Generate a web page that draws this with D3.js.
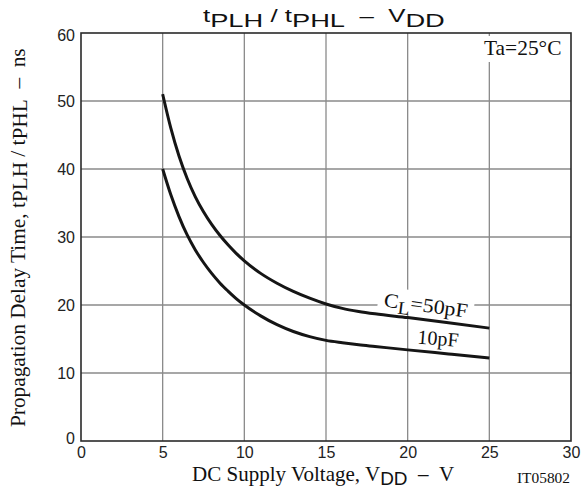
<!DOCTYPE html>
<html>
<head>
<meta charset="utf-8">
<script src="https://cdn.jsdelivr.net/npm/d3@7/dist/d3.min.js"></script>
<style>
  html, body { margin: 0; padding: 0; background: #fff; }
  svg { display: block; }
</style>
</head>
<body>
<svg id="chart" width="583" height="493"></svg>
<script>
// ---- data ----
const xTicks = [0, 5, 10, 15, 20, 25, 30];
const yTicks = [0, 10, 20, 30, 40, 50, 60];

const vdd50 = [5, 5.5, 6, 6.5, 7, 7.5, 8, 8.5, 9, 9.5, 10, 11, 12, 13, 14, 15, 16, 17, 18, 20, 22.5, 25];
const tpd50 = [51, 46.0, 41.9, 38.6, 35.9, 33.7, 31.85, 30.25, 28.85, 27.6, 26.5, 24.65, 23.2, 22.0, 21.0, 20.15, 19.5, 19.05, 18.7, 18.15, 17.4, 16.6];

const vdd10 = [5, 5.5, 6, 6.5, 7, 7.5, 8, 8.5, 9, 9.5, 10, 11, 12, 13, 14, 15, 16, 17, 18, 20, 22.5, 25];
const tpd10 = [40, 36.2, 33.0, 30.3, 28.1, 26.25, 24.65, 23.25, 22.05, 20.95, 20.0, 18.4, 17.1, 16.1, 15.35, 14.8, 14.45, 14.15, 13.9, 13.4, 12.8, 12.2];

// ---- layout ----
const svg = d3.select("#chart");
const L = 81, R = 571, T = 33, B = 441;
const x = d3.scaleLinear().domain([0, 30]).range([L, R]);
const y = d3.scaleLinear().domain([0, 60]).range([B, T]);

const SERIF = "'Liberation Serif', 'Times New Roman', serif";
const SANS = "'Liberation Sans', Arial, Helvetica, sans-serif";
const GRID = "#8a8a8a";
const INK = "#111";

// stretch a horizontal text horizontally so that it spans [x0, x1]
function fitX(sel, x0, x1) {
  const bb = sel.node().getBBox();
  const s = (x1 - x0) / bb.width;
  sel.attr("transform", `translate(${x0},0) scale(${s},1) translate(${-bb.x},0)`);
}

// grid
const grid = svg.append("g");
grid.selectAll("line.v").data(xTicks.slice(1, -1)).join("line")
  .attr("x1", d => x(d)).attr("x2", d => x(d))
  .attr("y1", T).attr("y2", B)
  .attr("stroke", GRID).attr("stroke-width", 1.3);
grid.selectAll("line.h").data(yTicks.slice(1, -1)).join("line")
  .attr("x1", L).attr("x2", R)
  .attr("y1", d => y(d)).attr("y2", d => y(d))
  .attr("stroke", GRID).attr("stroke-width", 1.3);

// axes (tick labels only)
const xAxis = d3.axisBottom(x).tickValues(xTicks).tickSize(0).tickPadding(6);
const gx = svg.append("g").attr("transform", `translate(0,${B})`).call(xAxis);
gx.select(".domain").remove();
gx.selectAll("text").attr("font-family", SANS).attr("font-size", 16).attr("fill", "#222");

const yAxis = d3.axisLeft(y).tickValues(yTicks).tickSize(0).tickPadding(6);
const gy = svg.append("g").attr("transform", `translate(${L},0)`).call(yAxis);
gy.select(".domain").remove();
gy.selectAll("text").attr("font-family", SANS).attr("font-size", 16).attr("fill", "#222")
  .attr("dy", d => d === 0 ? "0.14em" : (d === 60 ? "0.48em" : "0.33em"));

// Ta box
svg.append("rect").attr("x", 478).attr("y", 36).attr("width", R - 479).attr("height", 26).attr("fill", "#fff");
const ta = svg.append("text").attr("y", 55)
  .attr("font-family", SERIF).attr("font-size", 20).attr("fill", INK).text("Ta=25°C");
fitX(ta, 484, 561.5);

// CL label background
const lab50 = svg.append("g")
  .attr("transform", `translate(${x(21.06)},${y(18.97)}) rotate(7.5)`);
lab50.append("rect").attr("x", -48).attr("y", -20).attr("width", 96).attr("height", 24).attr("fill", "#fff");

// curves
const line = d3.line().x(d => x(d[0])).y(d => y(d[1])).curve(d3.curveMonotoneX);
svg.append("path").datum(d3.zip(vdd50, tpd50)).attr("d", line)
  .attr("fill", "none").attr("stroke", "#151515").attr("stroke-width", 3);
svg.append("path").datum(d3.zip(vdd10, tpd10)).attr("d", line)
  .attr("fill", "none").attr("stroke", "#151515").attr("stroke-width", 3);

// curve labels
const t50 = lab50.append("text").attr("text-anchor", "middle")
  .attr("font-family", SERIF).attr("font-size", 20).attr("fill", INK);
t50.append("tspan").text("C");
t50.append("tspan").attr("font-size", 18).attr("dy", 5).text("L");
t50.append("tspan").attr("dy", -5).text("=50pF");
t50.attr("transform", "scale(1.1,1)");

svg.append("g").attr("transform", `translate(${x(21.83)},${y(14.1)}) rotate(4.7)`)
  .append("text").attr("text-anchor", "middle")
  .attr("font-family", SERIF).attr("font-size", 20).attr("fill", INK).text("10pF");

// border
svg.append("rect").attr("x", L).attr("y", T).attr("width", R - L).attr("height", B - T)
  .attr("fill", "none").attr("stroke", "#2a2a2a").attr("stroke-width", 1.6);

// title
const title = svg.append("text").attr("y", 22)
  .attr("font-family", SANS).attr("fill", INK);
title.append("tspan").attr("font-size", 18).text("t");
title.append("tspan").attr("font-size", 19).attr("dy", 5).text("PLH");
title.append("tspan").attr("font-size", 18).attr("dy", -5).text("\u00A0/\u00A0t");
title.append("tspan").attr("font-size", 19).attr("dy", 5).text("PHL");
title.append("tspan").attr("font-size", 18).attr("dy", -5).text("\u00A0\u00A0–\u00A0\u00A0V");
title.append("tspan").attr("font-size", 19).attr("dy", 5).text("DD");
fitX(title, 203, 445);

// x label
const xl = svg.append("text").attr("y", 481)
  .attr("font-family", SERIF).attr("font-size", 20).attr("fill", INK);
xl.append("tspan").text("DC Supply Voltage, V");
xl.append("tspan").attr("font-family", SANS).attr("font-size", 18).attr("dy", 4).text("DD");
xl.append("tspan").attr("dy", -4).text("\u00A0\u00A0–\u00A0\u00A0V");
fitX(xl, 192, 455);

// IT code
const it = svg.append("text").attr("y", 483)
  .attr("font-family", SERIF).attr("font-size", 14).attr("fill", INK).text("IT05802");
fitX(it, 517, 570);

// y label (rotated)
const yl = svg.append("text").attr("x", 0).attr("y", 0)
  .attr("font-family", SERIF).attr("font-size", 20).attr("fill", INK);
yl.append("tspan").text("Propagation Delay Time, t");
yl.append("tspan").attr("dy", 2).text("PLH");
yl.append("tspan").attr("dy", -2).text("\u00A0/\u00A0t");
yl.append("tspan").attr("dy", 2).text("PHL");
yl.append("tspan").attr("dy", -2).text("\u00A0\u00A0–\u00A0\u00A0ns");
{
  const bb = yl.node().getBBox();
  const s = (427 - 48) / bb.width;
  yl.attr("transform", `translate(25,427) rotate(-90) scale(${s},1) translate(${-bb.x},0)`);
}
</script>
</body>
</html>
